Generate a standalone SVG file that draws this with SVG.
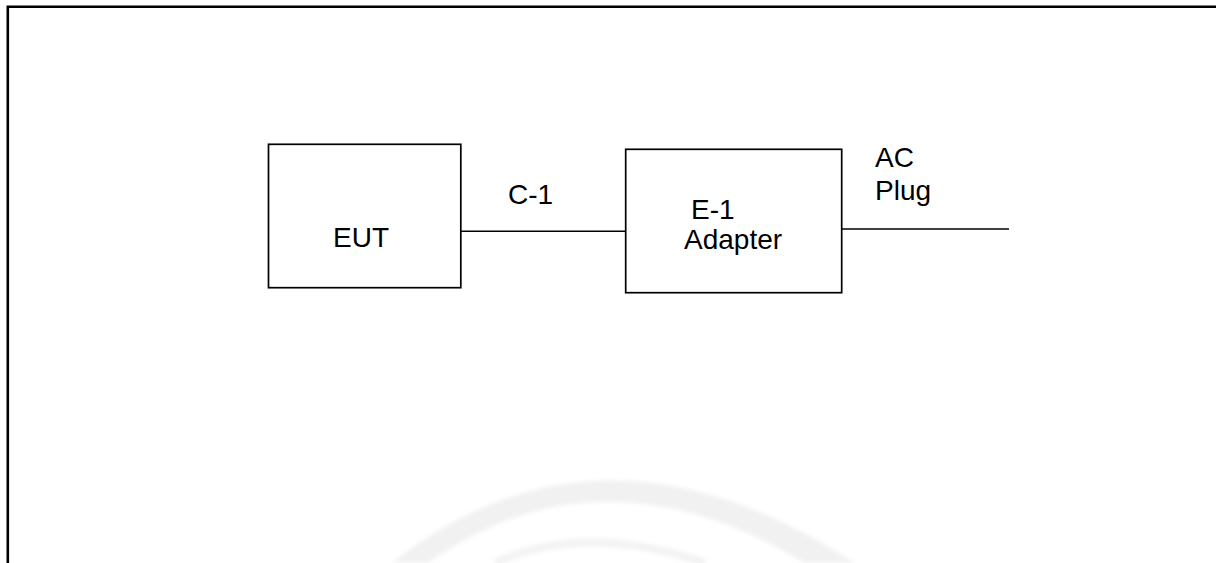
<svg xmlns="http://www.w3.org/2000/svg" width="1216" height="563" viewBox="0 0 1216 563">
  <style>
    .box { fill: none; stroke: #000; stroke-width: 1.7; }
    .wire { stroke: #000; stroke-width: 1.6; fill: none; }
    .border { stroke: #000; stroke-width: 2.6; fill: none; }
    .lbl { font-family: "Liberation Sans", Arial, sans-serif; font-size: 28px; fill: #000; }
    .wm { fill: #f1f1f1; stroke: none; }
  </style>
  <defs>
    <filter id="soft" x="-10%" y="-10%" width="120%" height="120%">
      <feGaussianBlur stdDeviation="2"/>
    </filter>
  </defs>
  <rect x="0" y="0" width="1216" height="563" fill="#fff"/>
  <g id="watermark" filter="url(#soft)">
    <path class="wm" d="M 392 563 Q 600 398 855 563 L 805 563 Q 600 440 428 563 Z"/>
    <path d="M 495 563 Q 585 522 705 563" stroke="#f3f3f3" stroke-width="8" fill="none"/>
  </g>
  <g id="frame">
    <path class="border" d="M 7.8 563 L 7.8 6.8 L 1216 6.8"/>
  </g>
  <g id="connectors">
    <line class="wire" x1="460" y1="231.3" x2="626" y2="231.3"/>
    <line class="wire" x1="842" y1="229" x2="1009" y2="229"/>
    <text class="lbl" x="508" y="204">C-1</text>
    <text class="lbl" x="875" y="166.5">AC</text>
    <text class="lbl" x="875" y="199.5">Plug</text>
  </g>
  <g id="eut">
    <rect class="box" x="268.5" y="144.3" width="192.3" height="143.4"/>
    <text class="lbl" x="333" y="247.3">EUT</text>
  </g>
  <g id="adapter">
    <rect class="box" x="625.7" y="149.3" width="216" height="143.4"/>
    <text class="lbl" x="691" y="219.3">E-1</text>
    <text class="lbl" x="684" y="249.3">Adapter</text>
  </g>
</svg>
